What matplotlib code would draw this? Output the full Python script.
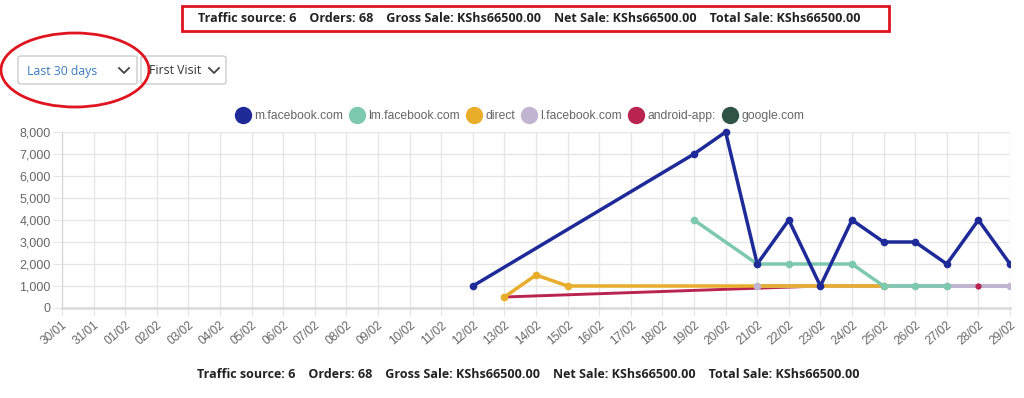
import numpy as np
import matplotlib
matplotlib.use("Agg")
import matplotlib.pyplot as plt
from matplotlib.patches import Rectangle, Ellipse, FancyBboxPatch
from matplotlib.lines import Line2D

W, H = 1024, 398

days = ["30/01", "31/01"] + ["%02d/02" % d for d in range(1, 30)]

series_names = ["m.facebook.com", "lm.facebook.com", "direct", "l.facebook.com", "android-app:", "google.com"]
series_colors = ["#1f2a99", "#7dc9b0", "#e8ad2b", "#c1b4d0", "#b8234f", "#2f5446"]
series_widths = [2.5, 2.5, 2.5, 2.9, 2.1, 2.5]

# values by date, missing dates are skipped (lines span gaps)
m_facebook = {"12/02": 1000, "19/02": 7000, "20/02": 8000, "21/02": 2000, "22/02": 4000, "23/02": 1000,
              "24/02": 4000, "25/02": 3000, "26/02": 3000, "27/02": 2000, "28/02": 4000, "29/02": 2000}
lm_facebook = {"19/02": 4000, "21/02": 2000, "22/02": 2000, "24/02": 2000, "25/02": 1000,
               "26/02": 1000, "27/02": 1000}
direct = {"13/02": 500, "14/02": 1500, "15/02": 1000, "25/02": 1000}
l_facebook = {"21/02": 1000, "27/02": 1000, "29/02": 1000}
android_app = {"13/02": 500, "23/02": 1000, "28/02": 1000}
google = {}

series_values = [m_facebook, lm_facebook, direct, l_facebook, android_app, google]

summary = "Traffic source: 6    Orders: 68    Gross Sale: KShs66500.00    Net Sale: KShs66500.00    Total Sale: KShs66500.00"


def px(x, y):
    return x / W, 1 - y / H


fig = plt.figure(figsize=(W / 100, H / 100), dpi=100)
plt.rcParams['font.family'] = ['Open Sans', 'DejaVu Sans']
arial = ["Liberation Sans", "DejaVu Sans"]

ax = fig.add_axes([62 / W, 1 - 308 / H, (1010 - 62) / W, (308 - 132) / H])

# clip only at the right edge (points at the top stay whole)
clip = Rectangle((-0.1, -0.1), 1.1, 1.3, transform=ax.transAxes)

n = len(series_names)
for i in range(n - 1, -1, -1):
    vals = series_values[i]
    xs = [days.index(k) for k in vals]
    ys = list(vals.values())
    ms = 4.5 if series_names[i] == "android-app:" else 5.5
    line, = ax.plot(xs, ys, color=series_colors[i], lw=series_widths[i], zorder=3 + (n - i))
    dots, = ax.plot(xs, ys, ls="none", marker="o", markersize=ms, markeredgewidth=0,
                    color=series_colors[i], zorder=10 + (n - i))
    line.set_clip_path(clip)
    dots.set_clip_path(clip)

ax.set_xlim(0, len(days) - 1)
ax.set_ylim(0, 8000)
ax.set_xticks(range(len(days)))
ax.set_xticklabels(days, rotation=40, ha="right", rotation_mode="anchor", fontsize=8.6,
                   color="#666666", family=arial)
ax.set_yticks(range(0, 8001, 1000))
ax.set_yticklabels(["{:,}".format(v) for v in range(0, 8001, 1000)], fontsize=9,
                   color="#666666", family=arial)
ax.grid(True, color="#e6e6e6", lw=1)
ax.tick_params(axis="y", length=6.5, color="#e6e6e6", pad=1.5)
ax.tick_params(axis="x", length=6, color="#e6e6e6", pad=2)
for s in ["top", "right"]:
    ax.spines[s].set_visible(False)
ax.spines["left"].set_color("#d5d5d5")
ax.spines["bottom"].set_color("#dddddd")
ax.spines["bottom"].set_linewidth(2)
ax.set_axisbelow(True)

# legend
handles = [Line2D([], [], ls="none", marker="o", markersize=12.5, markeredgewidth=0,
                  color=c) for c in series_colors]
fig.legend(handles, series_names, loc="center", bbox_to_anchor=px(519, 116), ncol=n,
           frameon=False, handlelength=1.45, handletextpad=0.2, columnspacing=0.45,
           borderpad=0, labelcolor="#666666", prop={"family": arial, "size": 8.7})

# summary box at top
fig.text(*px(529, 18), summary, ha="center", va="center", fontsize=9.0, weight="bold", color="#222222")
fig.add_artist(Rectangle(px(182, 31), 707 / W, 25 / H, transform=fig.transFigure,
                         fill=False, edgecolor="#e0141e", lw=2))

# dropdowns
fig.add_artist(FancyBboxPatch(px(18, 84), 119 / W, 28 / H, transform=fig.transFigure,
                              boxstyle="round,pad=0,rounding_size=0.004", fc="white", ec="#cccccc", lw=1))
fig.add_artist(FancyBboxPatch(px(141, 84), 85 / W, 28 / H, transform=fig.transFigure,
                              boxstyle="round,pad=0,rounding_size=0.004", fc="white", ec="#cccccc", lw=1))
fig.text(*px(27, 71), "Last 30 days", ha="left", va="center", fontsize=8.8, color="#3a7bc0")
fig.text(*px(149, 71), "First Visit", ha="left", va="center", fontsize=8.8, color="#333333")
for cx in [124, 214]:
    xa, ya = px(cx - 5, 68)
    xb, yb = px(cx, 73)
    xc, yc = px(cx + 5, 68)
    fig.add_artist(Line2D([xa, xb, xc], [ya, yb, yc], transform=fig.transFigure, color="#444444", lw=1.3))

fig.add_artist(Ellipse(px(75, 70), 148 / W, 74 / H, transform=fig.transFigure,
                       fill=False, edgecolor="#e0141e", lw=2))

# summary at bottom
fig.text(*px(528, 375), summary, ha="center", va="center", fontsize=9.0, weight="bold", color="#222222")

fig.savefig("out.png", dpi=100, facecolor="white")
